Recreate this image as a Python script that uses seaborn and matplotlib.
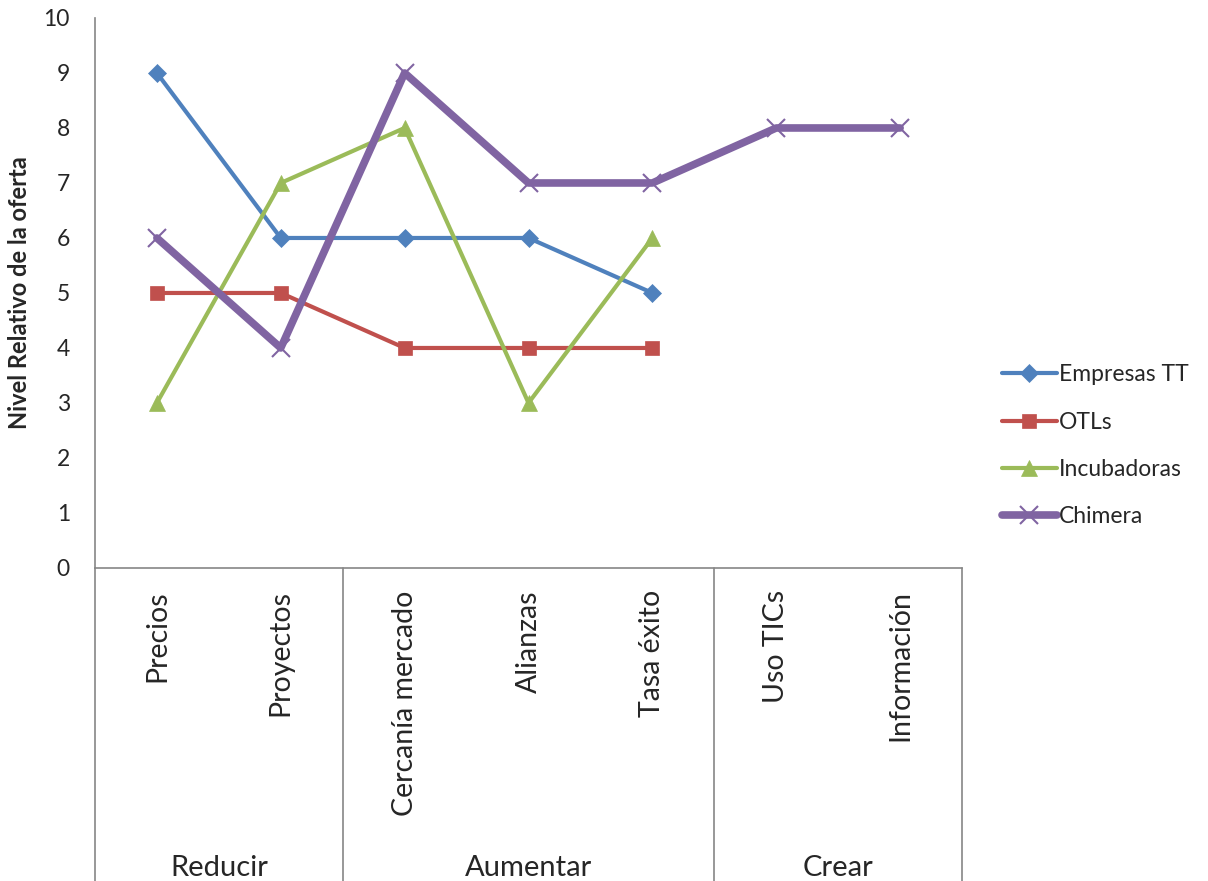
import seaborn as sns
import matplotlib.pyplot as plt
import numpy as np

# data
categories = ['Precios', 'Proyectos', 'Cercanía mercado', 'Alianzas',
              'Tasa éxito', 'Uso TICs', 'Información']
groups = ['Reducir', 'Aumentar', 'Crear']
group_sizes = [2, 3, 2]

empresas_tt = [9, 6, 6, 6, 5, np.nan, np.nan]
otls = [5, 5, 4, 4, 4, np.nan, np.nan]
incubadoras = [3, 7, 8, 3, 6, np.nan, np.nan]
chimera = [6, 4, 9, 7, 7, 8, 8]

series = {
    'Empresas TT': (empresas_tt, '#4F81BD', 'D', 9, 3),
    'OTLs': (otls, '#C0504D', 's', 10, 3),
    'Incubadoras': (incubadoras, '#9BBB59', '^', 11, 3),
    'Chimera': (chimera, '#8064A2', 'x', 13, 5.5),
}

sns.set_style('white')
plt.rcParams['font.family'] = ['Lato', 'DejaVu Sans']

fig = plt.figure(figsize=(12.08, 8.81), dpi=100)
ax = fig.add_axes([0.0786, 0.3553, 0.7178, 0.6243])

x = np.arange(len(categories))
for name, (vals, color, marker, ms, lw) in series.items():
    sns.lineplot(x=x, y=vals, ax=ax, color=color, marker=marker, markersize=ms,
                 linewidth=lw, markeredgecolor=color, markeredgewidth=1.5 if marker == 'x' else 0.5,
                 label=name)

ax.set_xlim(-0.5, len(categories) - 0.5)
ax.set_ylim(0, 10)
ax.set_yticks(range(0, 11))
ax.tick_params(axis='y', length=0, pad=18, labelsize=16.5)
ax.set_xticks(x)
ax.set_xticklabels(categories, rotation=90, fontsize=20.5, va='top')
ax.tick_params(axis='x', length=0, pad=16)
ax.set_ylabel('Nivel Relativo de la oferta', fontsize=17, fontweight='bold')
ax.yaxis.set_label_coords(-0.074, 0.5)

grey = '#868686'
for side in ['top', 'right']:
    ax.spines[side].set_visible(False)
for side in ['left', 'bottom']:
    ax.spines[side].set_color(grey)
    ax.spines[side].set_linewidth(1.2)

# group separators and group labels under the axis
trans = ax.get_xaxis_transform()
edges = np.concatenate([[0], np.cumsum(group_sizes)]) - 0.5
for e in edges:
    ax.plot([e, e], [0, -0.6], transform=trans, color=grey, lw=1.2, clip_on=False)
for g, lo, hi in zip(groups, edges[:-1], edges[1:]):
    ax.text((lo + hi) / 2, -0.545, g, transform=trans, ha='center', va='center', fontsize=21)

ax.legend_.remove()
handles, labels = ax.get_legend_handles_labels()
fig.legend(handles, labels, loc='center left', bbox_to_anchor=(0.812, 0.494),
           frameon=False, fontsize=16.5, handlelength=2.4, handletextpad=0.1,
           labelspacing=1.15)

fig.savefig('out.png', dpi=100)
